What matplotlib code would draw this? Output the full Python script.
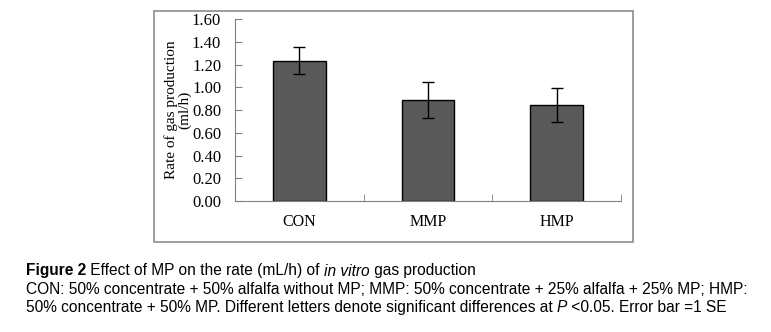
import matplotlib
matplotlib.use("Agg")
import matplotlib.pyplot as plt
import matplotlib.patches as patches
import numpy as np

groups = ["CON", "MMP", "HMP"]
rates = [1.235, 0.89, 0.843]
se = [0.12, 0.155, 0.15]
y_ticks = [0.0, 0.2, 0.4, 0.6, 0.8, 1.0, 1.2, 1.4, 1.6]

W, H = 771, 332
fig = plt.figure(figsize=(W / 100, H / 100), dpi=100)
fig.patch.set_facecolor("white")

# outer chart box
fig.add_artist(patches.Rectangle(
    (154 / W, 1 - 242 / H), (633 - 154) / W, (242 - 11) / H,
    transform=fig.transFigure, facecolor="none", edgecolor="#8c8c8c", lw=1.2))

ax = fig.add_axes((235 / W, 1 - 201 / H, (621 - 235) / W, (201 - 19.3) / H))
x = np.arange(len(groups))
ax.bar(x, rates, width=0.41, color="#595959", edgecolor="black", lw=1.0, zorder=2)
ax.errorbar(x, rates, yerr=se, fmt="none", ecolor="black", elinewidth=1.0,
            capsize=4, capthick=1.0, zorder=3)

serif = "Liberation Serif"
ax.set_xlim(-0.5, 2.5)
ax.set_ylim(0, 1.6)
ax.set_yticks(y_ticks)
ax.set_yticklabels([f"{v:.2f}" for v in y_ticks], family=serif, fontsize=12)
ax.set_xticks(x)
ax.set_xticklabels(groups, family=serif, fontsize=11.5)
ax.tick_params(axis="y", direction="in", length=5, color="#808080", pad=10)
ax.tick_params(axis="x", length=0, pad=9)
ax.set_xticks([0.5, 1.5, 2.5], minor=True)
ax.tick_params(axis="x", which="minor", direction="in", length=5, color="#808080")
for s in ["top", "right"]:
    ax.spines[s].set_visible(False)
for s in ["left", "bottom"]:
    ax.spines[s].set_color("#808080")
ax.set_ylabel("Rate of gas production\n(ml/h)", family=serif,
              fontsize=11, linespacing=1.0, labelpad=0)

# caption, built piece by piece for bold/italic runs
cap_font = "Liberation Sans"
fs = 11.2


def run_text(x0, y, parts):
    fig.canvas.draw()
    for s, kw in parts:
        t = fig.text(x0, y, s, fontsize=fs, family=cap_font, va="center", **kw)
        x0 = t.get_window_extent(renderer=fig.canvas.get_renderer()).x1 / W


run_text(26 / W, 1 - 271 / H, [
    ("Figure 2", {"weight": "bold"}),
    (" Effect of MP on the rate (mL/h) of ", {}),
    ("in vitro", {"style": "italic"}),
    (" gas production", {}),
])
run_text(26 / W, 1 - 289 / H, [
    ("CON: 50% concentrate + 50% alfalfa without MP; MMP: 50% concentrate + 25% alfalfa + 25% MP; HMP:", {}),
])
run_text(26 / W, 1 - 307.5 / H, [
    ("50% concentrate + 50% MP. Different letters denote significant differences at ", {}),
    ("P", {"style": "italic"}),
    (" <0.05. Error bar =1 SE", {}),
])

fig.savefig("out.png", dpi=100)
